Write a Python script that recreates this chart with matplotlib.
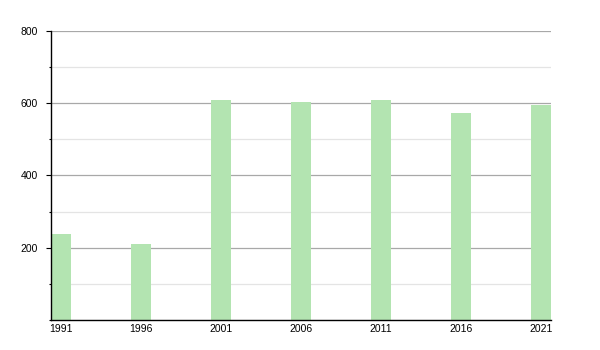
import matplotlib.pyplot as plt
from matplotlib.ticker import MultipleLocator

plt.rcParams['font.family'] = ['Liberation Sans', 'DejaVu Sans']

years = [1991, 1996, 2001, 2006, 2011, 2016, 2021]
values = [238, 211, 608, 603, 608, 572, 594]

fig = plt.figure(figsize=(6, 3.5), dpi=100)
ax = fig.add_axes([0.085, 0.0857, 0.833, 0.826])

# Bars sit on the grid, light green
ax.bar(years, values, width=1.25, color='#b3e4b1', zorder=2)

ax.set_xlim(1990.375, 2021.625)
ax.set_ylim(0, 800)
ax.set_xticks(years)
ax.set_xticklabels([str(y) for y in years])
ax.yaxis.set_major_locator(MultipleLocator(200))
ax.yaxis.set_minor_locator(MultipleLocator(100))
ax.set_yticks([200, 400, 600, 800])

ax.grid(axis='y', which='major', color='#a8a8a8', linewidth=0.9, zorder=0)
ax.grid(axis='y', which='minor', color='#e4e4e4', linewidth=0.9, zorder=0)
ax.set_axisbelow(True)

for side in ['top', 'right']:
    ax.spines[side].set_visible(False)
ax.spines['left'].set_linewidth(1.0)
ax.spines['bottom'].set_linewidth(1.0)

ax.tick_params(axis='y', which='major', length=3.6, width=0.8, pad=6, labelsize=7.5)
ax.tick_params(axis='y', which='minor', length=1.8, width=0.8)
ax.tick_params(axis='x', length=0, pad=3, labelsize=7.5)

plt.savefig('out.png', dpi=100)
